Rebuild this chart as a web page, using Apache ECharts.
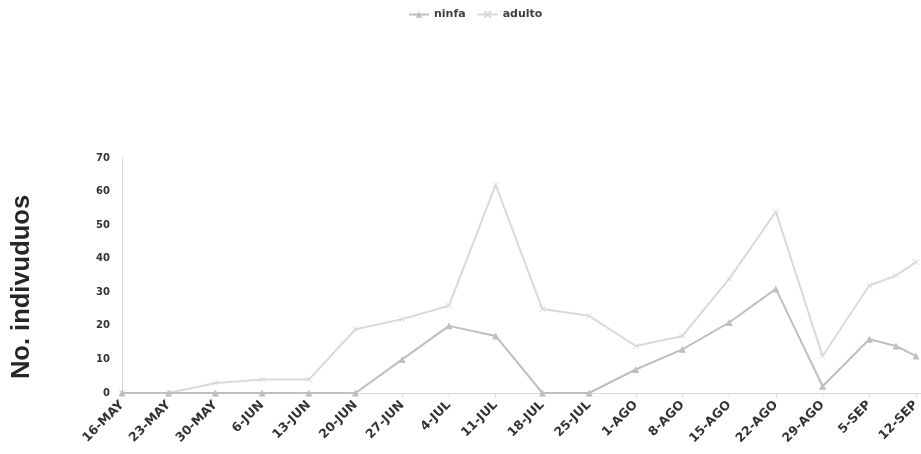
<!DOCTYPE html>
<html>
<head>
<meta charset="utf-8">
<script src="https://cdn.jsdelivr.net/npm/echarts@6/dist/echarts.min.js"></script>
<style>html,body{margin:0;padding:0;background:#fff}#c{width:921px;height:454px}</style>
</head>
<body>
<div id="c"></div>
<script>
// day offsets from 16-MAY for each observation
const dayOffsets = [0,7,14,21,28,35,42,49,56,63,70,77,84,91,98,105,112,116,119];
const ninfa  = [0,0,0,0,0,0,10,20,17,0,0,7,13,21,31,2,16,14,11];
const adulto = [0,0,3,4,4,19,22,26,62,25,23,14,17,34,54,11,32,35,39];
const tickLabels = ['16-MAY','23-MAY','30-MAY','6-JUN','13-JUN','20-JUN','27-JUN','4-JUL','11-JUL','18-JUL','25-JUL','1-AGO','8-AGO','15-AGO','22-AGO','29-AGO','5-SEP','12-SEP'];
const yTicks = [0,10,20,30,40,50,60,70];
const tickStep = 7;

const chart = echarts.init(document.getElementById('c'));
const font = 'DejaVu Sans';
chart.setOption({
  animation: false,
  legend: {
    top: 4, left: 403,
    itemWidth: 20, itemHeight: 8, itemGap: 11,
    textStyle: {fontFamily: font, fontWeight: 'bold', fontSize: 11, color: '#404040'},
    data: ['ninfa','adulto']
  },
  grid: {left: 122, right: 0, top: 158, bottom: 61, outerBoundsMode: 'none'},
  xAxis: {
    type: 'value', min: 0, max: 119.75, interval: tickStep,
    splitLine: {show: false},
    axisLine: {lineStyle: {color: '#d9d9d9', width: 1}},
    axisTick: {show: true, length: 4, lineStyle: {color: '#d9d9d9'}},
    axisLabel: {
      rotate: 45, margin: 10,
      fontFamily: font, fontWeight: 'bold', fontSize: 12.5, color: '#333',
      formatter: v => (v % tickStep === 0 && v / tickStep < tickLabels.length) ? tickLabels[v / tickStep] : ''
    }
  },
  yAxis: {
    type: 'value', min: yTicks[0], max: yTicks[yTicks.length-1], interval: 10,
    splitLine: {show: false},
    axisLine: {show: true, lineStyle: {color: '#d9d9d9', width: 1}},
    axisTick: {show: false},
    axisLabel: {margin: 12, fontFamily: font, fontWeight: 'bold', fontSize: 10, color: '#333'}
  },
  graphic: [{
    type: 'text', x: 22, y: 287, rotation: Math.PI/2,
    style: {text: 'No. indivuduos', font: 'bold 25.5px "Liberation Sans"', fill: '#262626', align: 'center', verticalAlign: 'middle'}
  }],
  series: [
    {
      name: 'ninfa', type: 'line', symbol: 'triangle', symbolSize: 7,
      lineStyle: {color: '#bfbfbf', width: 2},
      itemStyle: {color: '#bfbfbf'},
      data: dayOffsets.map((d,i) => [d, ninfa[i]]),
      z: 3
    },
    {
      name: 'adulto', type: 'line', symbol: 'path://M0,0L10,10M10,0L0,10', symbolSize: 6,
      lineStyle: {color: '#d9d9d9', width: 2},
      itemStyle: {color: 'rgba(0,0,0,0)', borderColor: '#d9d9d9', borderWidth: 1},
      data: dayOffsets.map((d,i) => [d, adulto[i]]),
      z: 2
    }
  ]
});
</script>
</body>
</html>
